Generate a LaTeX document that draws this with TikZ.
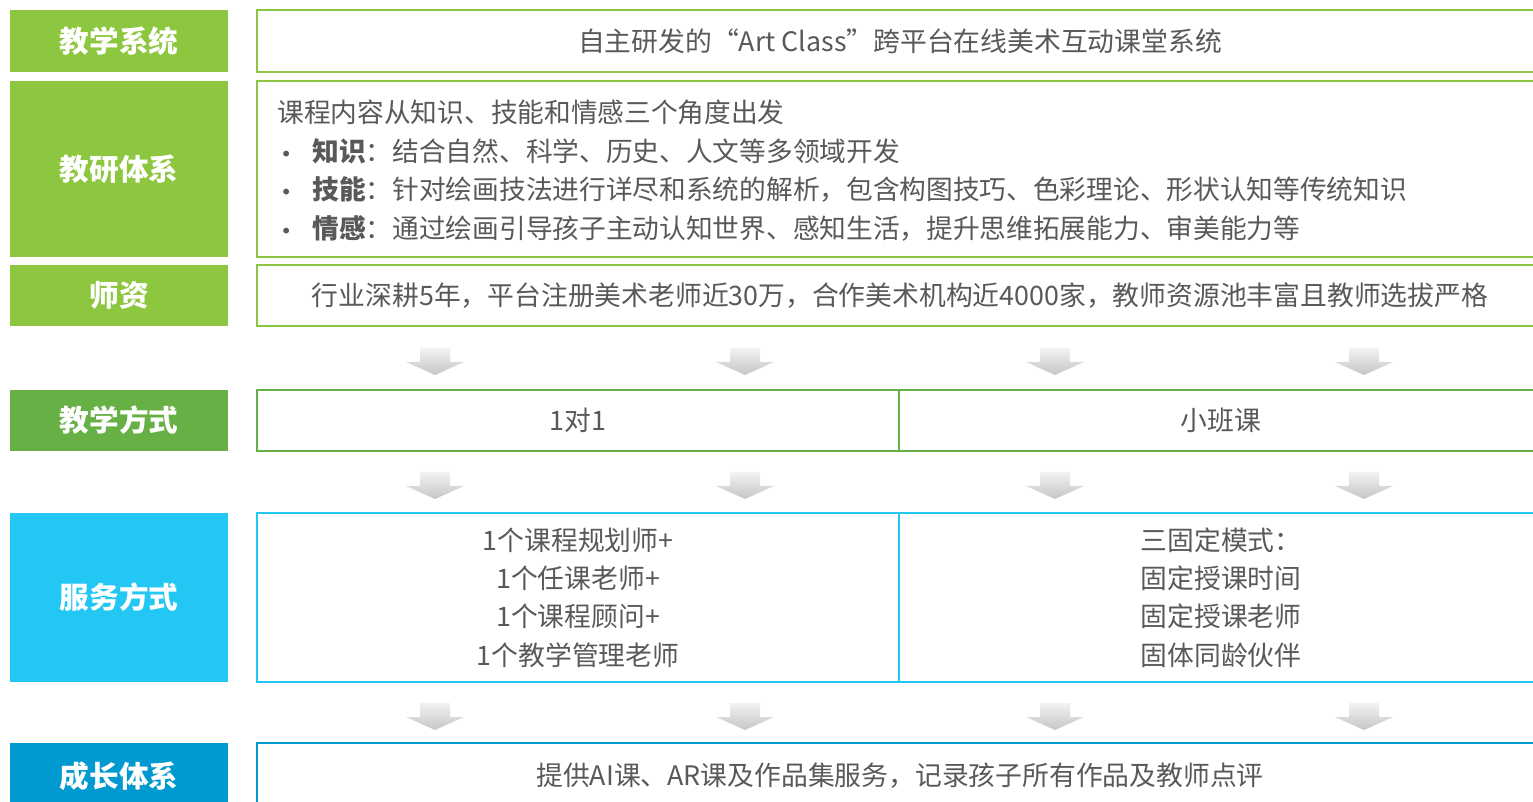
\documentclass[tikz,border=0pt]{standalone}
\usepackage{fontspec}
\setmainfont{Noto Sans CJK SC}
\newfontfamily\dotfont{DejaVu Sans}
\definecolor{lgreen}{HTML}{8DC63F}
\definecolor{dgreen}{HTML}{67B045}
\definecolor{lblue}{HTML}{22C8F3}
\definecolor{dblue}{HTML}{0099D0}
\definecolor{txtgray}{HTML}{595959}
\newcommand{\graydown}[2]{% centre x, top y
  \shade[top color=gray!10, bottom color=gray!45] (#1-15,#2) -- (#1+15,#2) -- (#1+15,#2+14) -- (#1+29,#2+14) -- (#1,#2+27) -- (#1-29,#2+14) -- (#1-15,#2+14) -- cycle;}
\newcommand{\itemdot}{\makebox[17.5pt][l]{\hspace{1.5pt}{\dotfont\fontsize{10}{10}\selectfont •}}}

\begin{document}
\begin{tikzpicture}[x=0.5pt,y=-0.5pt,
  lbl/.style={fill=#1, text=white, inner sep=0, minimum width=109pt, font=\fontsize{14.8}{16}\selectfont\bfseries},
  cell/.style={draw=#1, line width=1pt, fill=white, inner sep=0, text=txtgray, align=center, font=\fontsize{13.4}{19.2}\selectfont},
  body/.style={inner sep=0, text=txtgray, align=left, font=\fontsize{13.35}{19.3}\selectfont}]
\useasboundingbox (0,0) rectangle (1533,802);
\clip (0,0) rectangle (1533,802);

% labels
\node[lbl=lgreen, minimum height=31pt] (xitong) at (119,41) {教学系统};
\node[lbl=lgreen, minimum height=88pt] (jiaoyan) at (119,169) {教研体系};
\node[lbl=lgreen, minimum height=30.5pt] (shizi) at (119,295.5) {师资};
\node[lbl=dgreen, minimum height=30.5pt] (fangshi) at (119,420.5) {教学方式};
\node[lbl=lblue, minimum height=84.5pt] (fuwu) at (119,597.5) {服务方式};
\node[lbl=dblue, minimum height=33pt] (chengzhang) at (119,776) {成长体系};

% contents
\node[cell=lgreen, minimum width=643pt, minimum height=31pt] (xitong-c) at (900,41) {自主研发的“Art Class”跨平台在线美术互动课堂系统};
\node[cell=lgreen, minimum width=643pt, minimum height=88pt] (jiaoyan-c) at (900,169) {};
\node[body, anchor=west] (jiaoyan-t) at (277,170.5) {课程内容从知识、技能和情感三个角度出发\\
  \itemdot\textbf{知识}：结合自然、科学、历史、人文等多领域开发\\
  \itemdot\textbf{技能}：针对绘画技法进行详尽和系统的解析，包含构图技巧、色彩理论、形状认知等传统知识\\
  \itemdot\textbf{情感}：通过绘画引导孩子主动认知世界、感知生活，提升思维拓展能力、审美能力等};
\node[cell=lgreen, minimum width=643pt, minimum height=30.5pt] (shizi-c) at (900,295.5) {行业深耕5年，平台注册美术老师近30万，合作美术机构近4000家，教师资源池丰富且教师选拔严格};

\node[cell=dgreen, minimum width=321pt, minimum height=30.5pt] (yidui) at (578,420.5) {1对1};
\node[cell=dgreen, minimum width=322pt, minimum height=30.5pt] (xiaoban) at (1221,420.5) {小班课};

\node[cell=lblue, minimum width=321pt, minimum height=84.5pt] (yidui-fw) at (578,597.5) {1个课程规划师+\\1个任课老师+\\1个课程顾问+\\1个教学管理老师};
\node[cell=lblue, minimum width=322pt, minimum height=84.5pt] (xiaoban-fw) at (1221,597.5) {三固定模式：\\固定授课时间\\固定授课老师\\固体同龄伙伴};

\node[cell=dblue, minimum width=643pt, minimum height=33pt] (chengzhang-c) at (900,776) {提供AI课、AR课及作品集服务，记录孩子所有作品及教师点评};

% arrows
\foreach \ty in {348,472,703}{
  \foreach \cx in {435,745,1055,1364}{
    \graydown{\cx}{\ty}
  }
}
\end{tikzpicture}
\end{document}
